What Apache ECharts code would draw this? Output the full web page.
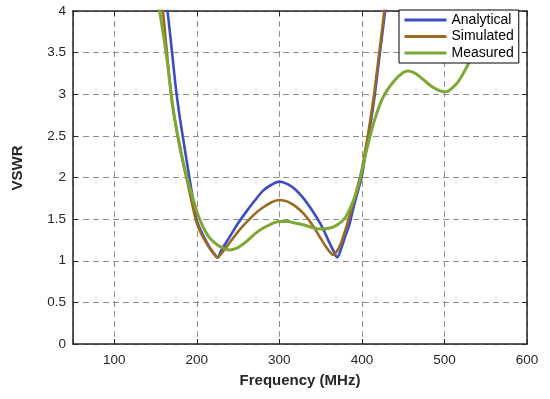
<!DOCTYPE html>
<html>
<head>
<meta charset="utf-8">
<script src="https://cdn.jsdelivr.net/npm/echarts@6/dist/echarts.min.js"></script>
<style>
html,body{margin:0;padding:0;background:#fff;}
#chart{width:550px;height:399px;}
</style>
</head>
<body>
<div id="chart"></div>
<script>
// ---- Data ----
var xTicks = [100, 200, 300, 400, 500, 600];
var yTicks = [0, 0.5, 1, 1.5, 2, 2.5, 3, 3.5, 4];

var freqA = [155,160,165,170,175,180,185,190,195,200,205,210,215,220,225,230,240,250,260,270,280,290,300,310,320,330,340,350,355,360,365,370,375,380,385,390,395,400,405,410,415,420,425,430,435];
var analytical = [4.8,4.35,3.96,3.5,3.04,2.68,2.37,2.06,1.76,1.48,1.36,1.26,1.17,1.10,1.04,1.13,1.29,1.45,1.59,1.72,1.84,1.91,1.95,1.92,1.85,1.74,1.60,1.44,1.34,1.23,1.13,1.04,1.15,1.30,1.44,1.65,1.83,2.02,2.33,2.62,2.95,3.35,3.75,4.15,4.6];

var freqS = [150,155,160,165,170,175,180,185,190,195,200,205,210,215,220,225,230,240,250,260,270,280,290,300,310,320,330,340,350,355,360,365,370,375,380,385,390,395,400,405,410,415,420,425,430,435];
var simulated = [4.9,4.4,3.9,3.37,2.9,2.6,2.33,2.1,1.88,1.65,1.45,1.33,1.24,1.16,1.09,1.04,1.09,1.22,1.35,1.46,1.56,1.64,1.70,1.73,1.71,1.65,1.56,1.43,1.27,1.19,1.12,1.07,1.12,1.22,1.37,1.54,1.72,1.9,2.1,2.38,2.68,3.02,3.42,3.82,4.25,4.7];

var freqM = [145,150,155,160,165,170,175,180,185,190,195,200,205,210,215,220,225,230,235,240,245,250,260,270,280,290,300,310,320,330,340,350,360,370,380,390,395,400,405,410,415,420,425,430,440,450,456,465,475,485,495,500,505,515,525,535,545,555];
var measured = [4.7,4.35,4.0,3.68,3.33,2.92,2.6,2.35,2.12,1.93,1.76,1.59,1.46,1.36,1.28,1.23,1.19,1.16,1.14,1.13,1.14,1.16,1.23,1.32,1.39,1.44,1.47,1.47,1.45,1.43,1.40,1.38,1.39,1.43,1.52,1.73,1.88,2.08,2.3,2.5,2.68,2.83,2.95,3.04,3.17,3.26,3.28,3.25,3.17,3.09,3.04,3.03,3.04,3.13,3.29,3.5,3.75,4.05];

function pairs(xs, ys){ return xs.map(function(x,i){ return [x, ys[i]]; }); }

var FONT = "'Liberation Sans', Arial, Helvetica, sans-serif";
var TXT = '#262626';
var AX = '#262626';

var chart = echarts.init(document.getElementById('chart'), null, {renderer:'canvas'});
var option = {
  animation: false,
  backgroundColor: '#ffffff',
  grid: {left: 73, right: 23, top: 11, bottom: 55, containLabel: false},
  legend: {
    orient: 'vertical',
    left: 399, top: 10,
    padding: [3, 5, 3, 4],
    itemGap: 2.5,
    itemWidth: 42,
    itemHeight: 14,
    backgroundColor: '#ffffff',
    borderColor: '#000000',
    borderWidth: 1,
    borderRadius: 0,
    itemStyle: {opacity: 0},
    lineStyle: {width: 3},
    textStyle: {fontFamily: FONT, fontSize: 14, color: '#000', padding: [0,0,0,0]},
    data: ['Analytical', 'Simulated', 'Measured'],
    z: 10
  },
  xAxis: [{
    type: 'value', min: 50, max: 600,
    name: 'Frequency (MHz)', nameLocation: 'middle', nameGap: 29,
    nameTextStyle: {fontFamily: FONT, fontSize: 15, fontWeight: 'bold', color: TXT},
    axisLine: {show: true, onZero: false, lineStyle: {color: AX, width: 1.5}},
    axisTick: {show: true, inside: true, length: 5, lineStyle: {color: AX, width: 1}},
    axisLabel: {fontFamily: FONT, fontSize: 13.5, color: TXT, margin: 9,
      formatter: function(v){ return xTicks.indexOf(v) >= 0 ? String(v) : ''; }},
    splitLine: {show: true, lineStyle: {color: '#8f8f8f', width: 1, type: [6, 4]}}
  }, {
    type: 'value', min: 50, max: 600, position: 'top',
    axisLine: {show: true, onZero: false, lineStyle: {color: AX, width: 1.5}},
    axisTick: {show: true, inside: true, length: 5, lineStyle: {color: AX, width: 1}},
    axisLabel: {show: false},
    splitLine: {show: false}
  }],
  yAxis: [{
    type: 'value', min: 0, max: 4, interval: 0.5,
    name: 'VSWR', nameLocation: 'middle', nameGap: 48, nameRotate: 90,
    nameTextStyle: {fontFamily: FONT, fontSize: 15, fontWeight: 'bold', color: TXT, padding: [0, 0, 0, 19]},
    axisLine: {show: true, onZero: false, lineStyle: {color: AX, width: 1.5}},
    axisTick: {show: true, inside: true, length: 5, lineStyle: {color: AX, width: 1}},
    axisLabel: {fontFamily: FONT, fontSize: 13.5, color: TXT, margin: 7,
      formatter: function(v){ return yTicks.indexOf(v) >= 0 ? String(v) : ''; }},
    splitLine: {show: true, lineStyle: {color: '#8f8f8f', width: 1, type: [6, 4]}}
  }, {
    type: 'value', min: 0, max: 4, interval: 0.5, position: 'right',
    axisLine: {show: true, onZero: false, lineStyle: {color: AX, width: 1.5}},
    axisTick: {show: true, inside: true, length: 5, lineStyle: {color: AX, width: 1}},
    axisLabel: {show: false},
    splitLine: {show: false}
  }],
  series: [{
    name: 'Analytical', type: 'line', xAxisIndex: 0, yAxisIndex: 0,
    data: pairs(freqA, analytical), symbol: 'none', smooth: 0.3, clip: true,
    lineStyle: {color: '#3D4DBF', width: 2.6}, itemStyle: {color: '#3D4DBF'}, z: 3
  }, {
    name: 'Simulated', type: 'line', xAxisIndex: 0, yAxisIndex: 0,
    data: pairs(freqS, simulated), symbol: 'none', smooth: 0.3, clip: true,
    lineStyle: {color: '#996A20', width: 2.6}, itemStyle: {color: '#996A20'}, z: 4
  }, {
    name: 'Measured', type: 'line', xAxisIndex: 0, yAxisIndex: 0,
    data: pairs(freqM, measured), symbol: 'none', smooth: 0.3, clip: true,
    lineStyle: {color: '#7DA834', width: 3}, itemStyle: {color: '#7DA834'}, z: 5
  }]
};
chart.setOption(option);
</script>
</body>
</html>
